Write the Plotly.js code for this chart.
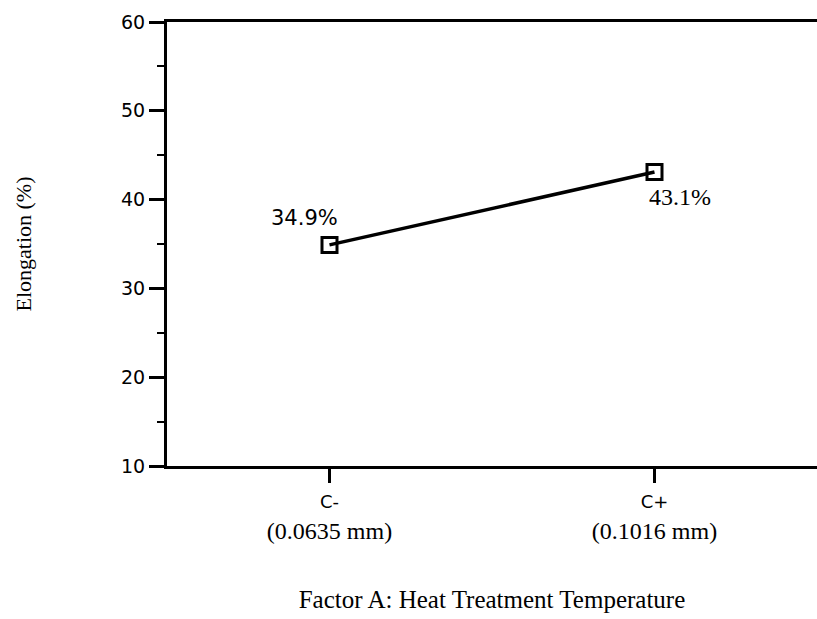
<!DOCTYPE html>
<html>
<head>
<meta charset="utf-8">
<script src="https://cdn.plot.ly/plotly-3.0.1.min.js"></script>
<style>html,body{margin:0;padding:0;background:#fff;}#chart{width:817px;height:619px;}</style>
</head>
<body>
<div id="chart"></div>
<script>
const categories = ['C-', 'C+'];
const subLabels = ['(0.0635 mm)', '(0.1016 mm)'];
const elongation = [34.9, 43.1];
const yTicks = [10, 20, 30, 40, 50, 60];

const serif = 'Liberation Serif, Times New Roman, serif';
const sans = 'DejaVu Sans, Liberation Sans, sans-serif';

const tickText = categories.map((c, i) =>
  '<span style="font-family:' + sans + ';font-size:18px">' + c + '</span><br>' + subLabels[i]);

const trace = {
  x: categories,
  y: elongation,
  type: 'scatter',
  mode: 'lines+markers',
  line: {color: '#000', width: 3.5},
  marker: {symbol: 'square-open', size: 15, color: '#000', line: {width: 3, color: '#000'}},
  hoverinfo: 'skip'
};

const labelStyles = [
  {xshift: -25, yshift: 27, font: {family: sans, size: 21, color: '#000'}},
  {xshift: 25, yshift: -25, font: {family: serif, size: 24, color: '#000'}}
];

const annotations = categories.map((c, i) => Object.assign({
  x: c, y: elongation[i], xref: 'x', yref: 'y',
  text: elongation[i].toFixed(1) + '%',
  showarrow: false
}, labelStyles[i]));

const layout = {
  width: 817, height: 619,
  margin: {l: 167, r: 0, t: 22, b: 153},
  paper_bgcolor: '#fff', plot_bgcolor: '#fff',
  showlegend: false,
  font: {family: sans, color: '#000'},
  xaxis: {
    type: 'category',
    range: [-0.5, 1.5],
    tickvals: categories,
    ticktext: tickText,
    ticks: 'outside', ticklen: 14, tickwidth: 3, tickcolor: '#000',
    ticklabelstandoff: -4,
    showline: true, linewidth: 3, linecolor: '#000', mirror: true,
    showgrid: false, zeroline: false,
    tickfont: {family: serif, size: 24, color: '#000'},
    title: {text: 'Factor A: Heat Treatment Temperature', font: {family: serif, size: 25, color: '#000'}, standoff: 48}
  },
  yaxis: {
    range: [10, 60],
    tickvals: yTicks,
    ticks: 'outside', ticklen: 15, tickwidth: 3, tickcolor: '#000',
    minor: {dtick: 5, ticks: 'outside', ticklen: 7, tickwidth: 2, tickcolor: '#000'},
    showline: true, linewidth: 3, linecolor: '#000',
    showgrid: false, zeroline: false,
    tickfont: {family: sans, size: 19, color: '#000'},
    title: {text: 'Elongation (%)', font: {family: serif, size: 22, color: '#000'}, standoff: 84}
  },
  annotations: annotations
};

Plotly.newPlot('chart', [trace], layout, {displayModeBar: false, staticPlot: true});
</script>
</body>
</html>
